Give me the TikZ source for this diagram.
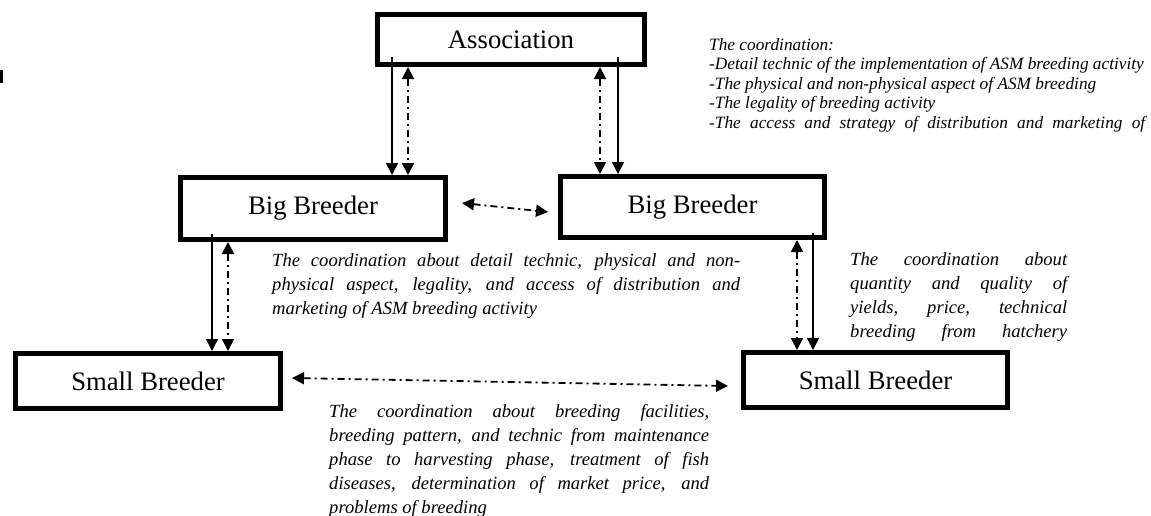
\documentclass[tikz,border=0pt]{standalone}
\usepackage{fontspec}
\setmainfont{Liberation Serif}
\usetikzlibrary{arrows.meta,calc}
\newcommand{\jl}[2]{\makebox[#1][s]{#2}}
\begin{document}
\begin{tikzpicture}[x=1pt,y=-1pt,
  box/.style={draw=black, line width=5pt, fill=white, inner sep=0pt,
    font=\fontsize{26.7}{30}\selectfont},
  tip/.tip={Triangle[length=12pt,width=12pt]},
  solidarr/.style={line width=1.4pt, -tip},
  dotarr/.style={line width=1.8pt, dash pattern=on 7pt off 4pt on 2pt off 4pt, tip-tip},
  note/.style={inner sep=0pt, anchor=base west,
    font=\fontsize{18.6}{24.2}\selectfont\itshape}]
\useasboundingbox (0,0) rectangle (1151,515);
\fill (0,70) rectangle (2.5,83);

% boxes
\node[box, minimum width=267pt, minimum height=50pt] (assoc) at (511,39.5) {Association};
\node[box, minimum width=265pt, minimum height=62pt] (bbL) at (313,208.5) {Big Breeder};
\node[box, minimum width=264pt, minimum height=61pt] (bbR) at (692.5,207) {Big Breeder};
\node[box, minimum width=265pt, minimum height=55pt] (sbL) at (148,381) {Small Breeder};
\node[box, minimum width=264pt, minimum height=55pt] (sbR) at (875.5,380) {Small Breeder};

% Association <-> Big Breeders
\draw[solidarr] ($(392,0 |- assoc.south)+(0,-10)$) -- (392,0 |- bbL.north);
\draw[dotarr] (408,0 |- assoc.south) -- (408,0 |- bbL.north);
\draw[dotarr] (600,0 |- assoc.south) -- (600,0 |- bbR.north);
\draw[solidarr] ($(618,0 |- assoc.south)+(0,-10)$) -- (618,0 |- bbR.north);

% Big <-> Big
\draw[dotarr] ($(bbL.east)+(14,-5.5)$) -- ($(bbR.west)+(-10,5)$);

% Big -> Small (left)
\draw[solidarr] ($(212,0 |- bbL.south)+(0,-8)$) -- (212,0 |- sbL.north);
\draw[dotarr] (228,0 |- bbL.south) -- (228,0 |- sbL.north);

% Big -> Small (right)
\draw[dotarr] (797,0 |- bbR.south) -- (797,0 |- sbR.north);
\draw[solidarr] ($(813,0 |- bbR.south)+(0,-7)$) -- (813,0 |- sbR.north);

% Small <-> Small
\draw[dotarr] ($(sbL.east)+(9,-3)$) -- ($(sbR.west)+(-13,6)$);

% texts
\node[note, font=\fontsize{17.3}{19.6}\selectfont\itshape] (tA) at (709,50)
  {\begin{tabular}[t]{@{}l@{}}
   The coordination:\\
   -Detail technic of the implementation of ASM breeding activity\\
   -The physical and non-physical aspect of ASM breeding\\
   -The legality of breeding activity\\
   \jl{436pt}{-The access and strategy of distribution and marketing of}
   \end{tabular}};

\node[note] (tB) at (272,266)
  {\begin{tabular}[t]{@{}l@{}}
   \jl{468pt}{The coordination about detail technic, physical and non-}\\
   \jl{468pt}{physical aspect, legality, and access of distribution and}\\
   marketing of ASM breeding activity
   \end{tabular}};

\begin{scope}
\clip (840,240) rectangle (1100,340);
\node[note] (tC) at (850,265)
  {\begin{tabular}[t]{@{}l@{}}
   \jl{217pt}{The coordination about}\\
   \jl{217pt}{quantity and quality of}\\
   \jl{217pt}{yields, price, technical}\\
   \jl{217pt}{breeding from hatchery}
   \end{tabular}};
\end{scope}

\begin{scope}
\clip (320,395) rectangle (760,515);
\node[note] (tD) at (329,417)
  {\begin{tabular}[t]{@{}l@{}}
   \jl{380pt}{The coordination about breeding facilities,}\\
   \jl{380pt}{breeding pattern, and technic from maintenance}\\
   \jl{380pt}{phase to harvesting phase, treatment of fish}\\
   \jl{380pt}{diseases, determination of market price, and}\\
   problems of breeding
   \end{tabular}};
\end{scope}
\end{tikzpicture}
\end{document}
